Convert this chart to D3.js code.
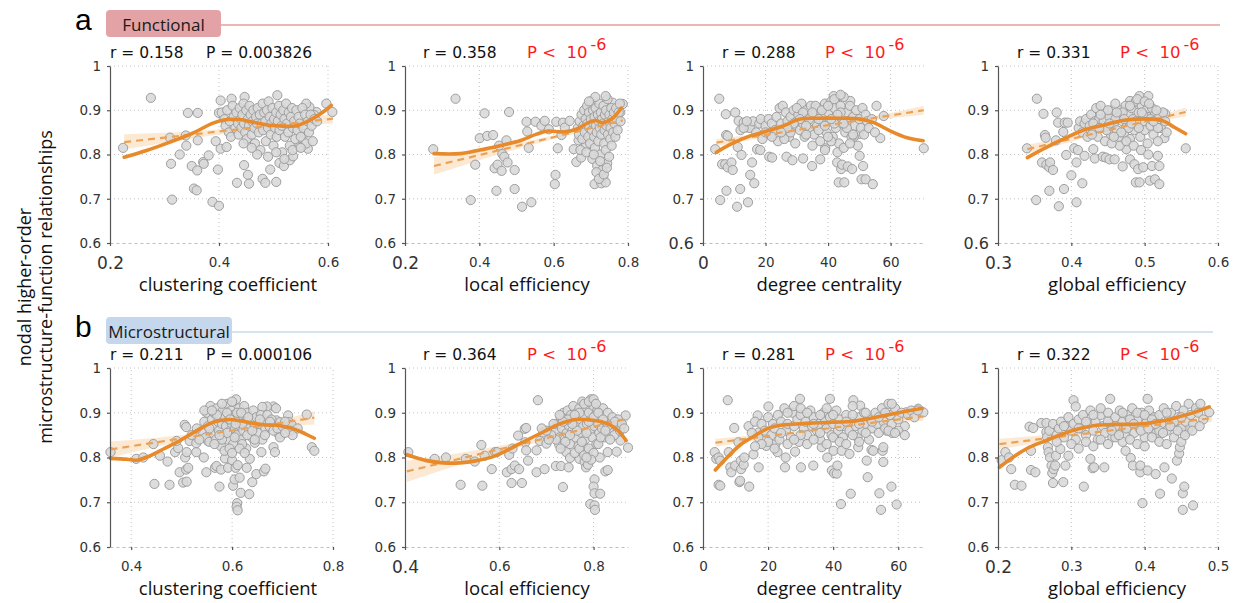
<!DOCTYPE html>
<html lang="en">
<head>
<meta charset="UTF-8">
<title>Nodal higher-order relationships</title>
<script src="https://d3js.org/d3.v7.min.js"></script>
<style>
  body { margin: 0; background: #fff; }
  svg { font-family: "DejaVu Sans", sans-serif; }
  .tick text { font-family: "DejaVu Sans", sans-serif; font-size: 13.5px; fill: #333; }
  .axis path, .axis line { stroke: #555; stroke-width: 1.2; }
  .axis.bottom path.domain { stroke: #bdbdbd; stroke-width: 1; stroke-dasharray: 3,3; }
  .axis-title { font-family: "Open Sans", sans-serif; font-size: 18.5px; fill: #111; }
  .grid { stroke: #c4c4c4; stroke-width: 1; stroke-dasharray: 1,3; }
  .dot { fill: #d8d8d8; fill-opacity: 0.88; stroke: #9e9e9e; stroke-width: 1; }
  .band { fill: #fbe5cc; opacity: 0.85; }
  .fit { fill: none; stroke: #eba257; stroke-width: 2.2; stroke-dasharray: 7,5; }
  .smooth { fill: none; stroke: #e8892a; stroke-width: 3.6; stroke-linecap: round; }
</style>
</head>
<body>
<svg width="1233" height="603"></svg>
<script>
// ---------- values ----------
const yTicks = [0.6, 0.7, 0.8, 0.9, 1];

// row a : functional
const funcClustering = [
  [0.224,0.815],[0.275,0.928],[0.31,0.838],[0.312,0.779],[0.314,0.698],[0.328,0.8],[0.339,0.843],[0.343,0.894],
  [0.361,0.894],[0.34,0.82],[0.35,0.774],[0.354,0.723],[0.359,0.719],[0.36,0.764],[0.361,0.832],[0.371,0.783],
  [0.372,0.779],[0.381,0.798],[0.388,0.693],[0.394,0.83],[0.4,0.684],[0.398,0.766],[0.403,0.813],[0.4,0.894],
  [0.414,0.817],[0.433,0.736],[0.446,0.776],[0.453,0.754],[0.455,0.734],[0.48,0.745],[0.485,0.736],[0.494,0.766],
  [0.505,0.738],[0.511,0.781],[0.519,0.774],[0.53,0.787],[0.536,0.796],[0.548,0.817],[0.563,0.813],[0.557,0.847],
  [0.597,0.915],[0.608,0.896],[0.579,0.896],[0.575,0.889],[0.566,0.907],[0.56,0.915],[0.507,0.934],[0.447,0.93],
  [0.423,0.926],[0.403,0.922],
  [0.405,0.895],[0.41,0.88],[0.412,0.865],[0.415,0.9],[0.418,0.85],[0.42,0.875],[0.422,0.84],[0.425,0.91],
  [0.427,0.885],[0.43,0.86],[0.432,0.895],[0.435,0.87],[0.436,0.845],[0.438,0.905],[0.44,0.88],[0.441,0.86],
  [0.443,0.89],[0.445,0.915],[0.446,0.87],[0.448,0.85],[0.45,0.9],[0.451,0.835],[0.453,0.88],[0.455,0.865],
  [0.456,0.91],[0.458,0.89],[0.46,0.845],[0.461,0.875],[0.463,0.9],[0.465,0.86],[0.466,0.825],[0.468,0.885],
  [0.47,0.87],[0.471,0.905],[0.473,0.85],[0.475,0.89],[0.476,0.81],[0.478,0.87],[0.48,0.915],[0.481,0.855],
  [0.483,0.895],[0.485,0.875],[0.486,0.83],[0.488,0.9],[0.49,0.86],[0.491,0.92],[0.493,0.885],[0.495,0.845],
  [0.496,0.87],[0.498,0.905],[0.5,0.82],[0.501,0.88],[0.503,0.86],[0.505,0.895],[0.506,0.84],[0.508,0.875],
  [0.51,0.91],[0.511,0.855],[0.513,0.89],[0.515,0.865],[0.516,0.805],[0.518,0.9],[0.52,0.88],[0.521,0.84],
  [0.523,0.915],[0.525,0.87],[0.527,0.85],[0.528,0.895],[0.53,0.82],[0.532,0.885],[0.534,0.905],[0.536,0.86],
  [0.538,0.875],[0.54,0.835],[0.542,0.9],[0.544,0.855],[0.546,0.885],[0.548,0.87],[0.55,0.84],[0.553,0.905],
  [0.555,0.86],[0.558,0.89],[0.56,0.825],[0.563,0.875],[0.565,0.85],[0.568,0.89],[0.57,0.865],[0.572,0.83],
  [0.575,0.88],[0.58,0.875],[0.47,0.8],[0.49,0.795],[0.505,0.805],[0.52,0.79],[0.535,0.81],[0.445,0.825],
  [0.46,0.815],[0.55,0.815]
];
const funcClusteringSmooth = [[0.226,0.794],[0.267,0.809],[0.31,0.828],[0.353,0.849],[0.389,0.871],[0.414,0.879],
  [0.438,0.879],[0.463,0.873],[0.493,0.866],[0.518,0.864],[0.542,0.865],[0.566,0.877],[0.591,0.896],[0.606,0.911]];
const funcClusteringFit = [[0.226,0.828],[0.609,0.881]];
const funcClusteringBand = [[0.226,0.812,0.846],[0.3,0.826,0.849],[0.38,0.842,0.855],[0.47,0.857,0.865],
  [0.54,0.865,0.877],[0.609,0.87,0.892]];

const funcLocalEff = [
  [0.276,0.812],[0.336,0.926],[0.377,0.697],[0.389,0.777],[0.401,0.837],[0.414,0.893],[0.421,0.842],[0.437,0.844],
  [0.441,0.769],[0.446,0.718],[0.449,0.777],[0.453,0.82],[0.46,0.763],[0.462,0.801],[0.467,0.795],[0.473,0.832],
  [0.476,0.782],[0.48,0.896],[0.495,0.765],[0.495,0.722],[0.515,0.682],[0.527,0.874],[0.529,0.852],[0.533,0.815],
  [0.54,0.692],[0.551,0.874],[0.567,0.865],[0.576,0.876],[0.587,0.857],[0.605,0.754],[0.603,0.733],[0.611,0.814],
  [0.607,0.874],[0.625,0.872],[0.63,0.861],[0.621,0.844],[0.643,0.876],[0.654,0.812],[0.661,0.783],[0.667,0.832],
  [0.71,0.733],[0.728,0.735],[0.733,0.748],[0.74,0.737],[0.674,0.793],[0.687,0.82],[0.786,0.914],[0.759,0.917],
  [0.779,0.895],
  [0.665,0.86],[0.668,0.845],[0.67,0.875],[0.672,0.81],[0.675,0.89],[0.677,0.835],[0.68,0.865],[0.682,0.9],
  [0.684,0.85],[0.686,0.88],[0.688,0.805],[0.69,0.91],[0.691,0.87],[0.693,0.84],[0.695,0.895],[0.696,0.86],
  [0.698,0.825],[0.7,0.88],[0.701,0.92],[0.703,0.855],[0.704,0.79],[0.706,0.9],[0.707,0.87],[0.709,0.84],
  [0.71,0.885],[0.711,0.815],[0.713,0.905],[0.714,0.865],[0.716,0.85],[0.717,0.775],[0.719,0.89],[0.72,0.83],
  [0.721,0.875],[0.723,0.915],[0.724,0.86],[0.726,0.8],[0.727,0.895],[0.728,0.845],[0.73,0.88],[0.731,0.765],
  [0.733,0.87],[0.734,0.91],[0.736,0.825],[0.737,0.855],[0.738,0.89],[0.74,0.81],[0.741,0.9],[0.742,0.865],
  [0.744,0.78],[0.745,0.925],[0.746,0.845],[0.748,0.875],[0.749,0.795],[0.75,0.89],[0.752,0.835],[0.753,0.86],
  [0.755,0.905],[0.756,0.82],[0.758,0.88],[0.76,0.85],[0.762,0.895],[0.764,0.87],[0.766,0.84],[0.768,0.905],
  [0.77,0.88],[0.772,0.855],[0.775,0.895],[0.778,0.915],[0.78,0.875],[0.715,0.76],[0.722,0.745],[0.735,0.755],
  [0.725,0.785],[0.708,0.8],[0.743,0.77],[0.712,0.93],[0.74,0.932],[0.695,0.92]
];
const funcLocalEffSmooth = [[0.278,0.802],[0.348,0.802],[0.401,0.81],[0.455,0.82],[0.509,0.831],[0.554,0.846],
  [0.585,0.853],[0.625,0.851],[0.661,0.857],[0.693,0.872],[0.713,0.877],[0.733,0.872],[0.76,0.883],[0.782,0.905]];
const funcLocalEffFit = [[0.278,0.774],[0.786,0.877]];
const funcLocalEffBand = [[0.278,0.754,0.794],[0.4,0.787,0.811],[0.5,0.812,0.826],[0.6,0.835,0.843],
  [0.7,0.856,0.864],[0.786,0.869,0.885]];

const funcDegree = [
  [3.9,0.812],[5.2,0.926],[5.5,0.697],[6.1,0.778],[7.1,0.778],[7.9,0.771],[7.5,0.718],[7.3,0.891],[7.4,0.844],
  [7.9,0.842],[9.1,0.782],[9.5,0.765],[10.3,0.895],[10.9,0.682],[11.1,0.817],[11.4,0.876],[11.9,0.722],[12.3,0.799],
  [13,0.872],[13.9,0.861],[14.4,0.692],[15.1,0.754],[15.7,0.782],[16.4,0.735],[17.3,0.812],[18.3,0.81],[21.2,0.795],
  [22.1,0.793],[26.7,0.795],[28.6,0.787],[32,0.791],[34.9,0.774],[37.5,0.789],[39.1,0.814],[42.9,0.782],[43.4,0.737],
  [44.2,0.767],[45.2,0.737],[44.5,0.777],[46.3,0.773],[47.7,0.767],[50.1,0.797],[50.7,0.744],[51.2,0.774],[52,0.744],
  [54.3,0.733],[55.5,0.91],[56.7,0.837],[57.8,0.887],[70.6,0.814],[49.8,0.846],[48.2,0.84],[47.1,0.921],[43.9,0.932],
  [41.8,0.932],
  [15,0.86],[16,0.875],[17,0.85],[18,0.87],[18.5,0.88],[19,0.835],[20,0.865],[21,0.88],[21.5,0.845],[22,0.87],
  [23,0.855],[23.5,0.885],[24,0.83],[24.5,0.905],[25,0.87],[25.5,0.91],[26,0.85],[26.5,0.895],[27,0.875],[27.5,0.84],
  [28,0.885],[28.5,0.86],[29,0.9],[29.5,0.825],[30,0.875],[30.5,0.89],[31,0.855],[31.5,0.915],[32,0.87],[32.5,0.84],
  [33,0.9],[33.5,0.88],[34,0.86],[34.5,0.91],[35,0.875],[35.5,0.845],[36,0.895],[36.5,0.865],[37,0.905],[37.5,0.83],
  [38,0.885],[38.5,0.87],[39,0.915],[39.5,0.85],[40,0.895],[40.5,0.875],[41,0.92],[41.5,0.84],[42,0.905],[42.5,0.86],
  [43,0.885],[43.5,0.825],[44,0.91],[44.5,0.87],[45,0.93],[45.5,0.85],[46,0.895],[46.5,0.875],[47,0.91],[47.5,0.84],
  [48,0.885],[48.5,0.865],[49,0.9],[49.5,0.82],[50,0.88],[50.5,0.86],[51,0.905],[51.5,0.845],[52,0.89],[52.5,0.875],
  [53,0.86],[54,0.88],[55,0.85],[33,0.845],[35,0.82],[37,0.855],[39,0.81],[41,0.83],[43,0.805],[45,0.815],[47,0.825],
  [40,0.84],[42,0.87],[44,0.895],[36,0.91],[38,0.9],[30,0.905],[28,0.85],[26,0.835],[22,0.84],[20,0.85],[32,0.895],
  [34,0.88],[46,0.86],[48,0.845],[42,0.925],[44,0.935],[40,0.91],[43,0.89],[45,0.87],[41,0.88],[39,0.865],[37,0.88],
  [35,0.895],[33,0.865],[31,0.88],[29,0.87],[27,0.86],[25,0.85],[12,0.855],[13,0.86],[14,0.875]
];
const funcDegreeSmooth = [[4.3,0.805],[8.7,0.823],[15.1,0.842],[20.5,0.853],[25.8,0.865],[31.1,0.88],[36.5,0.882],
  [43.9,0.882],[50.3,0.88],[54.6,0.872],[60,0.853],[65.3,0.838],[70.4,0.831]];
const funcDegreeFit = [[4.3,0.827],[70.6,0.9]];
const funcDegreeBand = [[4.3,0.819,0.835],[20,0.839,0.849],[35,0.858,0.864],[50,0.873,0.881],[60,0.882,0.894],
  [70.6,0.89,0.91]];

const funcGlobalEff = [
  [0.3395,0.814],[0.353,0.926],[0.352,0.697],[0.36,0.782],[0.362,0.892],[0.364,0.844],[0.365,0.838],[0.366,0.777],
  [0.37,0.771],[0.37,0.718],[0.371,0.782],[0.375,0.765],[0.379,0.832],[0.38,0.895],[0.382,0.872],[0.383,0.683],
  [0.389,0.851],[0.39,0.722],[0.391,0.872],[0.393,0.799],[0.395,0.872],[0.4,0.753],[0.404,0.814],[0.407,0.692],
  [0.407,0.782],[0.409,0.81],[0.415,0.735],[0.418,0.797],[0.43,0.812],[0.432,0.791],[0.443,0.795],[0.447,0.793],
  [0.452,0.789],[0.459,0.789],[0.47,0.773],[0.475,0.812],[0.48,0.789],[0.486,0.778],[0.488,0.737],[0.491,0.767],
  [0.493,0.737],[0.498,0.771],[0.507,0.741],[0.51,0.774],[0.514,0.744],[0.52,0.733],[0.518,0.797],[0.52,0.774],
  [0.527,0.837],[0.528,0.892],[0.556,0.814],[0.493,0.932],[0.505,0.932],[0.48,0.921],
  [0.41,0.86],[0.412,0.875],[0.415,0.85],[0.418,0.87],[0.42,0.88],[0.422,0.84],[0.425,0.865],[0.427,0.89],
  [0.43,0.855],[0.432,0.875],[0.434,0.905],[0.436,0.84],[0.438,0.88],[0.44,0.91],[0.442,0.86],[0.444,0.875],
  [0.446,0.83],[0.448,0.895],[0.45,0.865],[0.452,0.885],[0.454,0.845],[0.456,0.9],[0.458,0.87],[0.46,0.915],
  [0.462,0.855],[0.464,0.885],[0.466,0.82],[0.468,0.9],[0.47,0.875],[0.472,0.845],[0.474,0.91],[0.476,0.865],
  [0.478,0.89],[0.48,0.835],[0.482,0.905],[0.484,0.88],[0.486,0.855],[0.488,0.92],[0.49,0.87],[0.492,0.895],
  [0.494,0.84],[0.496,0.91],[0.498,0.875],[0.5,0.855],[0.502,0.9],[0.504,0.825],[0.506,0.885],[0.508,0.865],
  [0.51,0.905],[0.512,0.845],[0.514,0.89],[0.516,0.87],[0.518,0.83],[0.52,0.885],[0.522,0.86],[0.525,0.895],
  [0.528,0.875],[0.53,0.85],[0.455,0.825],[0.465,0.84],[0.475,0.83],[0.485,0.82],[0.495,0.81],[0.505,0.8],
  [0.47,0.895],[0.48,0.91],[0.49,0.925],[0.5,0.92],[0.46,0.88],[0.45,0.9],[0.44,0.89],[0.43,0.87],[0.478,0.86],
  [0.488,0.875],[0.498,0.89],[0.508,0.88],[0.518,0.86],[0.468,0.85],[0.458,0.84],[0.448,0.855],[0.438,0.86],
  [0.428,0.845],[0.492,0.86],[0.512,0.875],[0.482,0.87],[0.472,0.88],[0.462,0.895],[0.452,0.87],[0.496,0.895],
  [0.506,0.915],[0.516,0.9]
];
const funcGlobalEffSmooth = [[0.34,0.793],[0.366,0.816],[0.393,0.838],[0.42,0.857],[0.448,0.868],[0.47,0.877],
  [0.489,0.88],[0.511,0.88],[0.525,0.876],[0.541,0.861],[0.556,0.847]];
const funcGlobalEffFit = [[0.34,0.812],[0.556,0.896]];
const funcGlobalEffBand = [[0.34,0.802,0.822],[0.4,0.829,0.841],[0.465,0.858,0.864],[0.5,0.87,0.878],
  [0.556,0.886,0.906]];

// row b : microstructural
const microClustering = [
  [0.359,0.812],[0.41,0.797],[0.424,0.8],[0.444,0.83],[0.446,0.741],[0.457,0.804],[0.472,0.791],[0.476,0.739],
  [0.487,0.812],[0.493,0.821],[0.49,0.837],[0.496,0.767],[0.503,0.744],[0.51,0.746],[0.509,0.773],[0.507,0.8],
  [0.506,0.873],[0.509,0.868],[0.51,0.812],[0.513,0.777],[0.516,0.837],[0.529,0.812],[0.529,0.832],[0.549,0.767],
  [0.544,0.8],[0.552,0.837],[0.566,0.777],[0.569,0.781],[0.575,0.735],[0.578,0.773],[0.586,0.798],[0.592,0.777],
  [0.6,0.794],[0.602,0.737],[0.605,0.751],[0.607,0.777],[0.611,0.783],[0.615,0.755],[0.617,0.721],[0.61,0.698],
  [0.609,0.69],[0.611,0.682],[0.634,0.718],[0.64,0.745],[0.629,0.777],[0.635,0.797],[0.645,0.833],[0.648,0.763],
  [0.658,0.812],[0.663,0.769],[0.666,0.775],[0.682,0.823],[0.685,0.812],[0.682,0.914],[0.669,0.914],[0.66,0.913],
  [0.687,0.91],[0.688,0.883],[0.695,0.879],[0.692,0.853],[0.695,0.845],[0.711,0.894],[0.713,0.879],[0.718,0.873],
  [0.748,0.896],[0.758,0.823],[0.763,0.815],
  [0.54,0.86],[0.545,0.88],[0.548,0.845],[0.55,0.9],[0.552,0.87],[0.555,0.835],[0.557,0.915],[0.56,0.885],
  [0.562,0.855],[0.564,0.9],[0.566,0.87],[0.568,0.84],[0.57,0.91],[0.572,0.88],[0.574,0.86],[0.576,0.895],
  [0.578,0.825],[0.58,0.875],[0.582,0.905],[0.584,0.85],[0.586,0.89],[0.588,0.87],[0.59,0.92],[0.592,0.84],
  [0.594,0.885],[0.596,0.86],[0.598,0.905],[0.6,0.875],[0.602,0.83],[0.604,0.895],[0.606,0.865],[0.608,0.93],
  [0.61,0.85],[0.612,0.885],[0.614,0.91],[0.616,0.87],[0.618,0.84],[0.62,0.895],[0.622,0.86],[0.624,0.915],
  [0.626,0.88],[0.628,0.82],[0.63,0.9],[0.633,0.865],[0.636,0.885],[0.639,0.845],[0.642,0.905],[0.645,0.87],
  [0.648,0.89],[0.651,0.855],[0.654,0.875],[0.657,0.895],[0.66,0.84],[0.663,0.88],[0.666,0.865],[0.67,0.895],
  [0.674,0.87],[0.678,0.885],[0.682,0.86],[0.58,0.84],[0.585,0.815],[0.595,0.82],[0.6,0.81],[0.605,0.845],
  [0.59,0.855],[0.575,0.85],[0.565,0.83],[0.555,0.865],[0.61,0.9],[0.62,0.875],[0.6,0.925],[0.59,0.9],[0.57,0.895],
  [0.63,0.85],[0.64,0.86],[0.62,0.83],[0.615,0.82],[0.625,0.81],[0.535,0.84],[0.53,0.865],[0.52,0.85],[0.545,0.905],
  [0.56,0.905],[0.58,0.92],[0.596,0.885],[0.607,0.875],[0.618,0.9],[0.632,0.89],[0.645,0.84],[0.655,0.885],
  [0.665,0.85],[0.675,0.88],[0.69,0.865],[0.7,0.87],[0.705,0.88],[0.715,0.86],[0.72,0.85],[0.73,0.865],[0.705,0.855]
];
const microClusteringSmooth = [[0.359,0.798],[0.391,0.796],[0.411,0.794],[0.438,0.804],[0.464,0.819],[0.497,0.838],
  [0.53,0.86],[0.563,0.879],[0.596,0.885],[0.63,0.879],[0.663,0.873],[0.689,0.872],[0.722,0.864],[0.745,0.853],
  [0.763,0.843]];
const microClusteringFit = [[0.359,0.818],[0.763,0.889]];
const microClusteringBand = [[0.359,0.8,0.836],[0.45,0.824,0.844],[0.55,0.847,0.857],[0.6,0.856,0.864],
  [0.68,0.868,0.88],[0.763,0.874,0.904]];

const microLocalEff = [
  [0.407,0.812],[0.463,0.797],[0.487,0.8],[0.518,0.739],[0.529,0.797],[0.548,0.791],[0.562,0.828],[0.564,0.737],
  [0.569,0.804],[0.584,0.774],[0.591,0.812],[0.595,0.812],[0.616,0.767],[0.621,0.806],[0.626,0.774],[0.626,0.743],
  [0.628,0.82],[0.633,0.782],[0.64,0.849],[0.642,0.774],[0.648,0.743],[0.654,0.864],[0.657,0.866],[0.655,0.834],
  [0.657,0.816],[0.661,0.793],[0.679,0.816],[0.682,0.928],[0.679,0.767],[0.686,0.837],[0.693,0.856],[0.696,0.774],
  [0.7,0.831],[0.71,0.861],[0.713,0.849],[0.72,0.781],[0.727,0.829],[0.735,0.734],[0.731,0.781],[0.742,0.812],
  [0.747,0.778],[0.75,0.799],[0.77,0.797],[0.781,0.79],[0.784,0.778],[0.788,0.784],[0.793,0.696],[0.802,0.751],
  [0.8,0.735],[0.802,0.72],[0.802,0.693],[0.803,0.683],[0.814,0.719],[0.813,0.8],[0.825,0.769],[0.83,0.772],
  [0.83,0.812],[0.849,0.813],[0.873,0.822],[0.857,0.838],[0.868,0.894],[0.855,0.877],
  [0.72,0.86],[0.724,0.875],[0.728,0.845],[0.73,0.89],[0.733,0.865],[0.736,0.9],[0.738,0.84],[0.74,0.88],
  [0.743,0.855],[0.745,0.905],[0.748,0.87],[0.75,0.83],[0.752,0.895],[0.755,0.86],[0.757,0.915],[0.76,0.88],
  [0.762,0.845],[0.764,0.9],[0.766,0.87],[0.768,0.825],[0.77,0.91],[0.772,0.885],[0.774,0.855],[0.776,0.925],
  [0.778,0.87],[0.78,0.895],[0.782,0.84],[0.784,0.91],[0.786,0.875],[0.788,0.815],[0.79,0.9],[0.792,0.86],
  [0.794,0.93],[0.796,0.88],[0.798,0.845],[0.8,0.915],[0.802,0.87],[0.804,0.895],[0.806,0.83],[0.808,0.905],
  [0.81,0.875],[0.812,0.855],[0.815,0.89],[0.818,0.865],[0.82,0.91],[0.823,0.845],[0.826,0.88],[0.83,0.9],
  [0.833,0.86],[0.836,0.875],[0.84,0.89],[0.844,0.85],[0.848,0.87],[0.852,0.885],[0.856,0.86],[0.76,0.81],
  [0.77,0.82],[0.78,0.805],[0.79,0.82],[0.8,0.81],[0.81,0.83],[0.795,0.795],[0.785,0.8],[0.775,0.835],[0.765,0.86],
  [0.755,0.875],[0.745,0.885],[0.735,0.88],[0.79,0.88],[0.8,0.89],[0.81,0.9],[0.82,0.885],[0.83,0.87],[0.78,0.92],
  [0.79,0.925],[0.8,0.93],[0.805,0.92],[0.77,0.9],[0.75,0.85],[0.74,0.835],[0.73,0.82],[0.72,0.84],[0.71,0.85],
  [0.7,0.86],[0.705,0.84],[0.69,0.865],[0.715,0.875],[0.728,0.895],[0.76,0.895],[0.785,0.855],[0.815,0.845],
  [0.825,0.86],[0.835,0.84],[0.845,0.88],[0.86,0.875],[0.865,0.865]
];
const microLocalEffSmooth = [[0.404,0.806],[0.446,0.793],[0.481,0.788],[0.516,0.788],[0.552,0.793],[0.587,0.802],
  [0.622,0.819],[0.657,0.838],[0.693,0.857],[0.728,0.875],[0.763,0.885],[0.791,0.884],[0.82,0.879],[0.848,0.864],
  [0.869,0.838]];
const microLocalEffFit = [[0.404,0.769],[0.873,0.887]];
const microLocalEffBand = [[0.404,0.745,0.793],[0.5,0.779,0.807],[0.6,0.81,0.826],[0.7,0.839,0.847],
  [0.8,0.865,0.873],[0.873,0.879,0.895]];

const microDegree = [
  [3.6,0.812],[4.1,0.797],[4.8,0.8],[5.3,0.793],[4.8,0.739],[5.3,0.737],[7.6,0.928],[7.9,0.812],[8.4,0.778],
  [8.7,0.767],[9.6,0.866],[9.9,0.782],[10.9,0.834],[11.2,0.745],[11.4,0.748],[11.6,0.793],[11.7,0.774],[12.5,0.784],
  [12.7,0.8],[14.2,0.735],[15.5,0.807],[17.1,0.856],[17.1,0.778],[16.8,0.894],[20.1,0.914],[19.4,0.826],[22.2,0.829],
  [22.9,0.812],[25.2,0.778],[25.4,0.8],[28.3,0.813],[30.1,0.778],[29.8,0.931],[33.9,0.782],[36.5,0.823],[38.2,0.8],
  [39,0.931],[39.6,0.771],[40.3,0.765],[41.1,0.764],[40.1,0.815],[41.3,0.782],[42.4,0.696],[42.6,0.815],[45,0.808],
  [45.4,0.719],[47.7,0.823],[46.2,0.928],[48.3,0.916],[50.3,0.793],[50.6,0.756],[51.8,0.817],[52.3,0.815],[54.2,0.72],
  [54.7,0.683],[55.2,0.815],[55.4,0.79],[55.4,0.823],[56.4,0.86],[57.9,0.735],[58.1,0.855],[59.5,0.695],[62.5,0.901],
  [67.7,0.901],[66.1,0.909],
  [14,0.87],[15,0.855],[16,0.88],[17,0.845],[18,0.875],[19,0.86],[20,0.89],[21,0.85],[21.5,0.875],[22,0.865],
  [23,0.895],[23.5,0.84],[24,0.88],[25,0.91],[25.5,0.86],[26,0.875],[27,0.845],[27.5,0.9],[28,0.87],[29,0.885],
  [29.5,0.835],[30,0.895],[31,0.865],[31.5,0.88],[32,0.85],[33,0.905],[33.5,0.87],[34,0.89],[35,0.86],[35.5,0.875],
  [36,0.84],[37,0.9],[37.5,0.88],[38,0.865],[39,0.89],[39.5,0.85],[40,0.875],[41,0.905],[41.5,0.86],[42,0.885],
  [43,0.845],[43.5,0.87],[44,0.895],[45,0.86],[45.5,0.88],[46,0.915],[47,0.87],[47.5,0.845],[48,0.89],[49,0.86],
  [49.5,0.9],[50,0.875],[51,0.84],[51.5,0.885],[52,0.865],[53,0.9],[53.5,0.875],[54,0.855],[55,0.91],[55.5,0.88],
  [56,0.865],[57,0.92],[57.5,0.895],[58,0.875],[59,0.91],[60,0.885],[61,0.9],[62,0.87],[63,0.895],[64,0.905],
  [65,0.89],[66,0.905],[30,0.85],[32,0.83],[34,0.84],[36,0.855],[38,0.83],[40,0.845],[42,0.835],[44,0.83],[46,0.85],
  [48,0.835],[50,0.855],[24,0.855],[26,0.83],[28,0.84],[20,0.835],[22,0.82],[18,0.83],[16,0.825],[26,0.9],[28,0.915],
  [30,0.91],[32,0.9],[34,0.875],[36,0.895],[38,0.91],[40,0.895],[42,0.87],[44,0.88],[46,0.895],[48,0.875],[50,0.9],
  [52,0.88],[54,0.89],[56,0.9],[58,0.92],[60,0.86],[62,0.85],[57,0.86],[59,0.855]
];
const microDegreeSmooth = [[3.8,0.772],[7.4,0.8],[11.4,0.828],[15.5,0.847],[19.6,0.864],[23.7,0.872],[28.8,0.875],
  [33.9,0.877],[40.1,0.879],[46.2,0.881],[52.3,0.889],[58.5,0.898],[63.6,0.905],[67.4,0.91]];
const microDegreeFit = [[3.8,0.833],[67.7,0.892]];
const microDegreeBand = [[3.8,0.824,0.842],[20,0.843,0.853],[35,0.859,0.865],[50,0.872,0.88],[67.7,0.882,0.902]];

const microGlobalEff = [
  [0.205,0.794],[0.21,0.812],[0.215,0.8],[0.218,0.774],[0.223,0.739],[0.232,0.737],[0.243,0.869],[0.248,0.866],
  [0.245,0.815],[0.245,0.772],[0.251,0.767],[0.259,0.877],[0.266,0.877],[0.266,0.857],[0.267,0.846],[0.268,0.823],
  [0.269,0.812],[0.271,0.8],[0.273,0.782],[0.274,0.765],[0.275,0.743],[0.276,0.774],[0.278,0.782],[0.279,0.804],
  [0.285,0.819],[0.289,0.745],[0.292,0.782],[0.296,0.804],[0.303,0.928],[0.306,0.914],[0.317,0.735],[0.326,0.797],
  [0.329,0.776],[0.331,0.778],[0.345,0.778],[0.353,0.931],[0.374,0.815],[0.381,0.799],[0.384,0.782],[0.394,0.767],
  [0.394,0.782],[0.397,0.698],[0.404,0.771],[0.404,0.931],[0.415,0.763],[0.421,0.719],[0.427,0.778],[0.437,0.753],
  [0.444,0.793],[0.447,0.809],[0.448,0.823],[0.452,0.72],[0.452,0.683],[0.454,0.735],[0.456,0.857],[0.466,0.693],
  [0.47,0.904],[0.488,0.901],[0.46,0.864],
  [0.27,0.86],[0.275,0.875],[0.28,0.85],[0.283,0.865],[0.286,0.88],[0.29,0.845],[0.293,0.87],[0.296,0.89],[0.3,0.86],
  [0.303,0.875],[0.306,0.84],[0.31,0.885],[0.313,0.865],[0.316,0.895],[0.32,0.85],[0.323,0.875],[0.326,0.905],
  [0.33,0.86],[0.333,0.88],[0.336,0.84],[0.34,0.895],[0.343,0.87],[0.346,0.855],[0.35,0.9],[0.353,0.875],[0.356,0.845],
  [0.36,0.89],[0.363,0.865],[0.366,0.905],[0.37,0.88],[0.373,0.85],[0.376,0.895],[0.38,0.87],[0.383,0.91],
  [0.386,0.855],[0.39,0.885],[0.393,0.865],[0.396,0.9],[0.4,0.845],[0.403,0.88],[0.406,0.905],[0.41,0.87],
  [0.413,0.89],[0.416,0.855],[0.42,0.895],[0.423,0.875],[0.426,0.91],[0.43,0.86],[0.433,0.885],[0.436,0.9],
  [0.44,0.87],[0.443,0.915],[0.446,0.89],[0.45,0.865],[0.453,0.905],[0.456,0.88],[0.46,0.92],[0.463,0.895],
  [0.466,0.875],[0.47,0.91],[0.473,0.9],[0.476,0.92],[0.48,0.885],[0.3,0.83],[0.31,0.82],[0.32,0.835],[0.33,0.825],
  [0.34,0.84],[0.35,0.83],[0.36,0.845],[0.37,0.835],[0.38,0.84],[0.39,0.83],[0.4,0.825],[0.41,0.845],[0.42,0.835],
  [0.43,0.83],[0.44,0.845],[0.45,0.835],[0.33,0.895],[0.34,0.91],[0.35,0.88],[0.36,0.87],[0.37,0.9],[0.38,0.885],
  [0.39,0.9],[0.4,0.895],[0.41,0.885],[0.42,0.86],[0.43,0.9],[0.44,0.88],[0.45,0.89],[0.32,0.88],[0.31,0.865],
  [0.29,0.87],[0.28,0.835],[0.355,0.86],[0.365,0.85],[0.375,0.865],[0.385,0.875],[0.395,0.86],[0.405,0.865],
  [0.415,0.875],[0.425,0.855],[0.435,0.87],[0.445,0.86],[0.455,0.85],[0.465,0.86],[0.475,0.87]
];
const microGlobalEffSmooth = [[0.202,0.778],[0.22,0.8],[0.243,0.823],[0.266,0.838],[0.289,0.853],[0.31,0.864],
  [0.334,0.872],[0.357,0.874],[0.379,0.874],[0.401,0.876],[0.425,0.882],[0.447,0.891],[0.47,0.902],[0.488,0.913]];
const microGlobalEffFit = [[0.202,0.83],[0.492,0.888]];
const microGlobalEffBand = [[0.202,0.818,0.842],[0.27,0.837,0.851],[0.37,0.861,0.867],[0.43,0.872,0.88],
  [0.492,0.879,0.897]];

const xLabels = ["clustering coefficient", "local efficiency", "degree centrality", "global efficiency"];
const funcR = ["0.158", "0.358", "0.288", "0.331"];
const funcP = ["0.003826", null, null, null];
const microR = ["0.211", "0.364", "0.281", "0.322"];
const microP = ["0.000106", null, null, null];

// ---------- layout ----------
const svg = d3.select("svg");
const rows = [{top: 66, bottom: 243}, {top: 368, bottom: 547}];
const cols = [
  {left: 110, labelX: 228, rX: 110, pX: 206},
  {left: 405, labelX: 527, rX: 423, pX: 527},
  {left: 703, labelX: 829, rX: 722, pX: 825},
  {left: 998, labelX: 1117, rX: 1017, pX: 1120}
];

const panels = [
  {row: 0, col: 0, right: 328, domain: [0.2, 0.6], ticks: [0.2, 0.4, 0.6], big: true, pts: funcClustering,
   smooth: funcClusteringSmooth, fit: funcClusteringFit, band: funcClusteringBand, r: funcR[0], p: funcP[0]},
  {row: 0, col: 1, right: 628, domain: [0.2, 0.8], ticks: [0.2, 0.4, 0.6, 0.8], big: true, pts: funcLocalEff,
   smooth: funcLocalEffSmooth, fit: funcLocalEffFit, band: funcLocalEffBand, r: funcR[1], p: funcP[1]},
  {row: 0, col: 2, right: 925, domain: [0, 71], ticks: [0, 20, 40, 60], big: true, bigY: true, pts: funcDegree,
   smooth: funcDegreeSmooth, fit: funcDegreeFit, band: funcDegreeBand, r: funcR[2], p: funcP[2]},
  {row: 0, col: 3, right: 1218, domain: [0.3, 0.6], ticks: [0.3, 0.4, 0.5, 0.6], big: true, bigY: true, pts: funcGlobalEff,
   smooth: funcGlobalEffSmooth, fit: funcGlobalEffFit, band: funcGlobalEffBand, r: funcR[3], p: funcP[3]},
  {row: 1, col: 0, right: 333, domain: [0.358, 0.8], ticks: [0.4, 0.6, 0.8], big: false, pts: microClustering,
   smooth: microClusteringSmooth, fit: microClusteringFit, band: microClusteringBand, r: microR[0], p: microP[0]},
  {row: 1, col: 1, right: 628, domain: [0.4, 0.873], ticks: [0.4, 0.6, 0.8], big: true, pts: microLocalEff,
   smooth: microLocalEffSmooth, fit: microLocalEffFit, band: microLocalEffBand, r: microR[1], p: microP[1]},
  {row: 1, col: 2, right: 923, domain: [0, 67.6], ticks: [0, 20, 40, 60], big: false, pts: microDegree,
   smooth: microDegreeSmooth, fit: microDegreeFit, band: microDegreeBand, r: microR[2], p: microP[2]},
  {row: 1, col: 3, right: 1218, domain: [0.2, 0.5], ticks: [0.2, 0.3, 0.4, 0.5], big: true, pts: microGlobalEff,
   smooth: microGlobalEffSmooth, fit: microGlobalEffFit, band: microGlobalEffBand, r: microR[3], p: microP[3]}
];

const fmt = d3.format("~g");

panels.forEach(p => {
  const row = rows[p.row], col = cols[p.col];
  const x = d3.scaleLinear().domain(p.domain).range([col.left, p.right]);
  const y = d3.scaleLinear().domain([0.6, 1]).range([row.bottom, row.top]);
  const g = svg.append("g");

  // dotted grid
  g.selectAll(".gx").data(p.ticks.filter(t => t > p.domain[0])).join("line")
    .attr("class", "grid")
    .attr("x1", d => x(d)).attr("x2", d => x(d))
    .attr("y1", y(0.6)).attr("y2", y(1));
  g.selectAll(".gy").data(yTicks.filter(t => t > 0.6)).join("line")
    .attr("class", "grid")
    .attr("x1", x.range()[0]).attr("x2", x.range()[1])
    .attr("y1", d => y(d)).attr("y2", d => y(d));

  // confidence band of the linear fit
  g.append("path").datum(p.band).attr("class", "band")
    .attr("d", d3.area().curve(d3.curveMonotoneX)
      .x(d => x(d[0])).y0(d => y(d[1])).y1(d => y(d[2])));

  // nodes
  g.selectAll("circle").data(p.pts).join("circle")
    .attr("class", "dot")
    .attr("cx", d => x(d[0])).attr("cy", d => y(d[1])).attr("r", 4.6);

  // linear fit (dashed) and smooth curve
  g.append("path").datum(p.fit).attr("class", "fit")
    .attr("d", d3.line().x(d => x(d[0])).y(d => y(d[1])));
  g.append("path").datum(p.smooth).attr("class", "smooth")
    .attr("d", d3.line().curve(d3.curveCatmullRom).x(d => x(d[0])).y(d => y(d[1])));

  // axes
  const ax = g.append("g").attr("class", "axis bottom")
    .attr("transform", `translate(0,${row.bottom})`)
    .call(d3.axisBottom(x).tickValues(p.ticks).tickFormat(fmt).tickSize(3).tickSizeOuter(0).tickPadding(11));
  ax.selectAll(".tick text").filter(d => p.big && d === p.domain[0]).style("font-size", "17px");

  const ay = g.append("g").attr("class", "axis")
    .attr("transform", `translate(${col.left},0)`)
    .call(d3.axisLeft(y).tickValues(yTicks).tickFormat(fmt).tickSize(3).tickSizeOuter(0).tickPadding(6));
  ay.selectAll(".tick text").filter(d => p.bigY && d === 0.6).style("font-size", "16px");

  // x label
  g.append("text").attr("class", "axis-title")
    .attr("x", col.labelX).attr("y", row.bottom + 48)
    .attr("text-anchor", "middle").text(xLabels[p.col]);

  // statistics
  const sy = row.top - 8;
  g.append("text").attr("x", col.rX).attr("y", sy)
    .style("font-size", "15.5px").attr("fill", "#111").text("r = " + p.r);
  if (p.p) {
    g.append("text").attr("x", col.pX).attr("y", sy)
      .style("font-size", "15.5px").attr("fill", "#111").text("P = " + p.p);
  } else {
    const t = g.append("text").attr("x", col.pX).attr("y", sy)
      .attr("fill", "#ff1a1a").style("font-size", "16.5px").style("white-space", "pre");
    t.append("tspan").text("P <  10");
    t.append("tspan").attr("dx", 3).attr("dy", -8).style("font-size", "16px").text("-6");
  }
});

// panel headers
function header(letter, label, y0, boxW, fill, lineColor, lineEnd) {
  svg.append("text").attr("x", 75).attr("y", y0 + 20)
    .style("font-family", "'Liberation Sans', Arial, sans-serif").style("font-size", "30px")
    .attr("fill", "#000").text(letter);
  svg.append("line").attr("x1", 106 + boxW).attr("x2", lineEnd)
    .attr("y1", y0 + 15).attr("y2", y0 + 15)
    .attr("stroke", lineColor).attr("stroke-width", 1.2);
  svg.append("rect").attr("x", 106).attr("y", y0).attr("width", boxW).attr("height", 27)
    .attr("rx", 4).attr("fill", fill);
  svg.append("text").attr("x", 106 + boxW / 2).attr("y", y0 + 20.5)
    .attr("text-anchor", "middle")
    .style("font-family", "'Open Sans', sans-serif").style("font-size", "17px")
    .attr("fill", "#1a1a1a").text(label);
}
header("a", "Functional", 10, 115, "#e3a3a6", "#e06a6a", 1220);
header("b", "Microstructural", 317, 126, "#c5d7ed", "#a9c6e6", 1213);

// shared y title
const yt = svg.append("g").attr("class", "axis-title");
yt.append("text").attr("transform", "translate(31,287) rotate(-90)")
  .attr("text-anchor", "middle").style("font-size", "18px").text("nodal higher-order");
yt.append("text").attr("transform", "translate(52,287) rotate(-90)")
  .attr("text-anchor", "middle").style("font-size", "18px").text("microstructure-function relationships");
</script>
</body>
</html>
